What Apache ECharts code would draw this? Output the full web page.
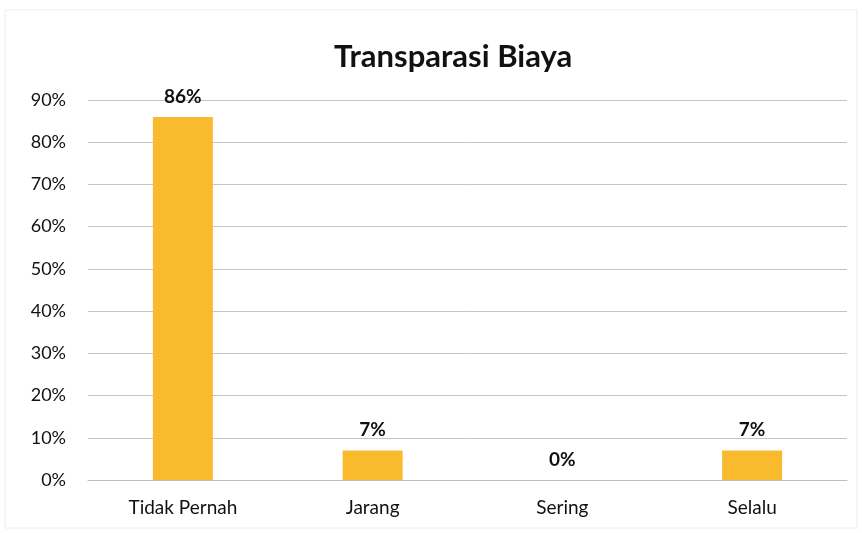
<!DOCTYPE html>
<html style="height: 100%">
<head>
    <meta charset="utf-8">
</head>
<body style="height: 100%; margin: 0; background: #fff">
<div id="container" style="height: 100%"></div>
<script type="text/javascript" src="https://cdn.jsdelivr.net/npm/echarts@6.0.0/dist/echarts.min.js"></script>
<script type="text/javascript">
  const categories = ['Tidak Pernah', 'Jarang', 'Sering', 'Selalu'];
  const values = [86, 7, 0, 7];
  const titleText = 'Transparasi Biaya';

  var dom = document.getElementById("container");
  var myChart = echarts.init(dom);
  var font = 'Lato';
  var option = {
    backgroundColor: '#fff',
    title: {
      text: titleText,
      left: 329,
      top: 36,
      textStyle: { fontFamily: font, fontSize: 31, fontWeight: 'bold', color: '#111' }
    },
    grid: { left: 88, right: 15, top: 100, bottom: 53 },
    xAxis: {
      type: 'category',
      data: categories,
      axisTick: { show: false },
      axisLine: { lineStyle: { color: '#bdbdbd' } },
      axisLabel: { color: '#111', fontFamily: font, fontSize: 19, margin: 18 }
    },
    yAxis: {
      type: 'value',
      min: 0,
      max: 90,
      interval: 10,
      axisLabel: { formatter: '{value}%', color: '#111', fontFamily: font, fontSize: 18, margin: 22 },
      splitLine: { lineStyle: { color: '#c4c4c4' } }
    },
    series: [
      {
        type: 'bar',
        data: values,
        barWidth: 60,
        itemStyle: { color: '#F9BA2E' },
        label: {
          show: true,
          position: 'top',
          distance: 11,
          formatter: '{c}%',
          color: '#111',
          fontFamily: font,
          fontSize: 19,
          fontWeight: 'bold'
        }
      }
    ],
    graphic: [
      {
        type: 'rect',
        shape: { x: 5, y: 10, width: 852, height: 518 },
        style: { fill: 'none', stroke: '#ececec', lineWidth: 1 },
        silent: true
      }
    ]
  };
  myChart.setOption(option);
</script>
</body>
</html>
